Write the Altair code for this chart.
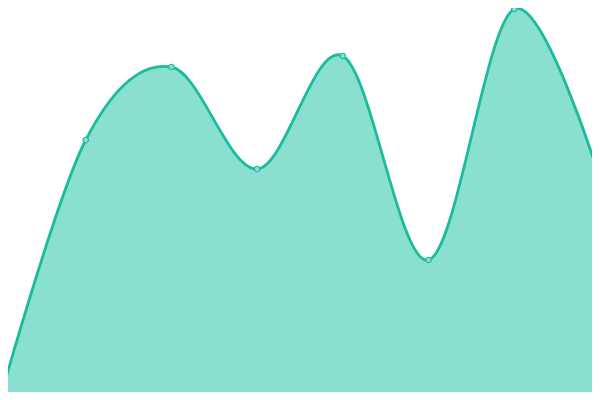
import altair as alt
import pandas as pd

idx = [0, 1, 2, 3, 4, 5, 6, 7]
values = [1, 260, 333, 231, 344, 140, 391, 221]

df = pd.DataFrame({"i": idx, "v": values})

LINE = "#1abc9c"
FILL = "#89e0d0"

unit = 600 / 7
x = alt.X("i:Q", axis=None,
          scale=alt.Scale(domain=[8 / unit, 592 / unit], nice=False, zero=False))
y = alt.Y("v:Q", axis=None, scale=alt.Scale(domain=[8, 392], nice=False, zero=False))

area = alt.Chart(df).mark_area(
    interpolate="cardinal", tension=0, color=FILL, opacity=1,
    line={"color": LINE, "strokeWidth": 2.8, "interpolate": "cardinal", "tension": 0},
    clip=False
).encode(x=x, y=y, y2=alt.Y2(datum=-50))

pts = alt.Chart(df).mark_point(
    filled=True, shape="circle", size=30, fill=FILL, stroke=LINE,
    strokeWidth=1.2, opacity=1, clip=False
).encode(x=x, y=y)

chart = (area + pts).properties(
    width=584, height=384, autosize=alt.AutoSizeParams(type="none"), padding=0
).configure_view(stroke=None)

chart.save("out.html", embed_options={"renderer": "svg", "actions": False})
